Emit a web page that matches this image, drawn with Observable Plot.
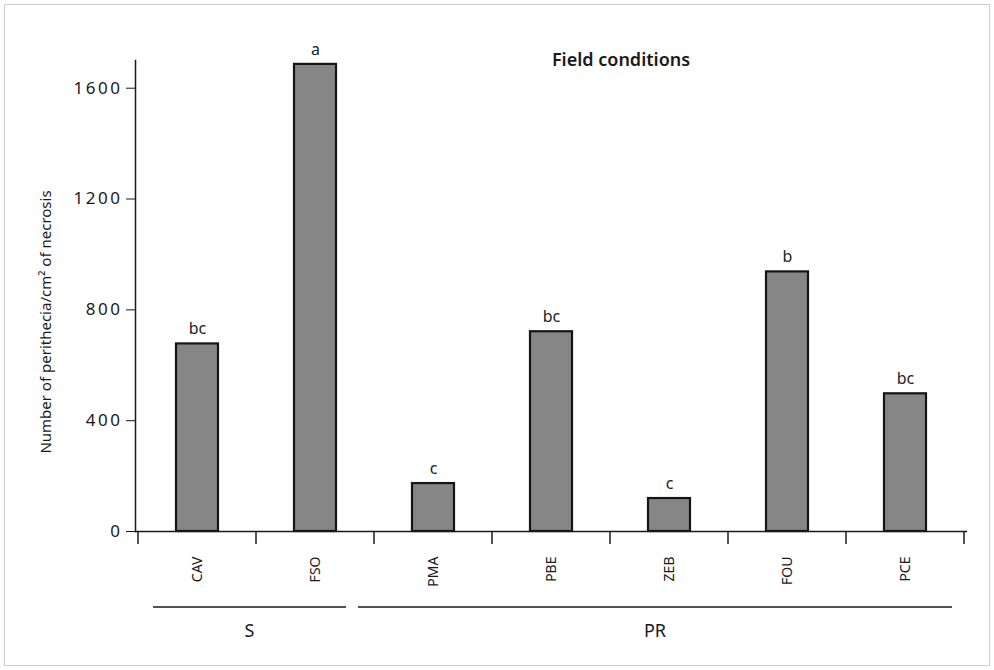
<!DOCTYPE html>
<html>
<head>
<meta charset="utf-8">
<script src="https://cdn.jsdelivr.net/npm/d3@7"></script>
<script src="https://cdn.jsdelivr.net/npm/@observablehq/plot@0.6"></script>
<style>
  html, body { margin: 0; padding: 0; background: #fff; }
  #chart svg { display: block; }
</style>
</head>
<body>
<div id="chart"></div>
<script>
// ---- data ----
const cultivars = ["CAV", "FSO", "PMA", "PBE", "ZEB", "FOU", "PCE"];
const perithecia = [677, 1686, 173, 721, 119, 937, 497];
const letters = ["bc", "a", "c", "bc", "c", "b", "bc"];
const groupNames = ["S", "PR"];
const groupFirst = ["CAV", "PMA"];
const groupLast = ["FSO", "PCE"];
const yTicks = [0, 400, 800, 1200, 1600];
const titleText = "Field conditions";
const yLabel = "Number of perithecia/cm² of necrosis";

const data = cultivars.map((c, i) => ({ cultivar: c, value: perithecia[i], letter: letters[i] }));

const plot = Plot.plot({
  width: 994,
  height: 670,
  marginLeft: 135,
  marginRight: 27,
  marginTop: 60,
  marginBottom: 139,
  style: { fontFamily: "'Noto Sans', 'DejaVu Sans', sans-serif", background: "#fff", color: "#1a1a1a" },
  x: { domain: cultivars, paddingInner: 0.647, paddingOuter: 0.3235 },
  y: { domain: [0, 1700] },
  marks: [
    Plot.barY(data, { x: "cultivar", y: "value", fill: "#868686", stroke: "#151515", strokeWidth: 2.2 }),
    Plot.ruleY([0], { stroke: "#1a1a1a", strokeWidth: 1.5 }),
    Plot.frame({ anchor: "left", stroke: "#1a1a1a", strokeWidth: 1.5 }),
    Plot.text(data, { x: "cultivar", y: "value", text: "letter", dy: -15, fontSize: 16, fill: "#222" }),
    Plot.axisY({
      ticks: yTicks, tickFormat: d => String(d), tickSize: 9, tickPadding: 4, fontSize: 17,
      label: yLabel, labelAnchor: "center", labelOffset: 95, labelArrow: "none"
    }),
    Plot.axisX({ tickSize: 0, tickPadding: 25, tickRotate: -90, fontSize: 14, label: null })
  ]
});

document.getElementById("chart").appendChild(plot);

const svg = d3.select(plot);
svg.selectAll('g[aria-label="y-axis tick label"] text').style("letter-spacing", "2.5px");
svg.selectAll('g[aria-label="y-axis label"] text')
  .style("font-size", "15px")
  .attr("transform", function () { return (this.getAttribute("transform") || "") + " translate(-26,0)"; });

// band boundaries from Plot's own x scale
const xs = plot.scale("x");
const gap = (xs.step - xs.bandwidth) / 2;
const before = c => xs.apply(c) - gap;
const after = c => xs.apply(c) + xs.bandwidth + gap;
const y0 = plot.scale("y").apply(0);

const boundaries = cultivars.map(before).concat([after(cultivars[cultivars.length - 1])]);
svg.append("g").attr("stroke", "#1a1a1a").attr("stroke-width", 1.5)
  .selectAll("line").data(boundaries).join("line")
  .attr("x1", d => d).attr("x2", d => d)
  .attr("y1", y0).attr("y2", y0 + 13);

// group lines and labels
const groupInsets = [[15, -28], [-16, -12]];
groupNames.forEach((g, i) => {
  const xa = before(groupFirst[i]) + groupInsets[i][0];
  const xb = after(groupLast[i]) + groupInsets[i][1];
  svg.append("line").attr("x1", xa).attr("x2", xb).attr("y1", 607).attr("y2", 607)
    .attr("stroke", "#1a1a1a").attr("stroke-width", 1.5);
  svg.append("text").attr("x", (xa + xb) / 2).attr("y", 637).attr("text-anchor", "middle")
    .attr("font-size", 18).attr("fill", "#1a1a1a").text(g);
});

// title
svg.append("text").attr("x", 621).attr("y", 66).attr("text-anchor", "middle")
  .attr("font-size", 18).attr("font-weight", 600).attr("fill", "#1a1a1a").text(titleText);

// dotted frame around figure
svg.append("rect").attr("x", 4.5).attr("y", 4.5).attr("width", 985).attr("height", 661)
  .attr("fill", "none").attr("stroke", "#9a9a9a").attr("stroke-dasharray", "1 1");
</script>
</body>
</html>
